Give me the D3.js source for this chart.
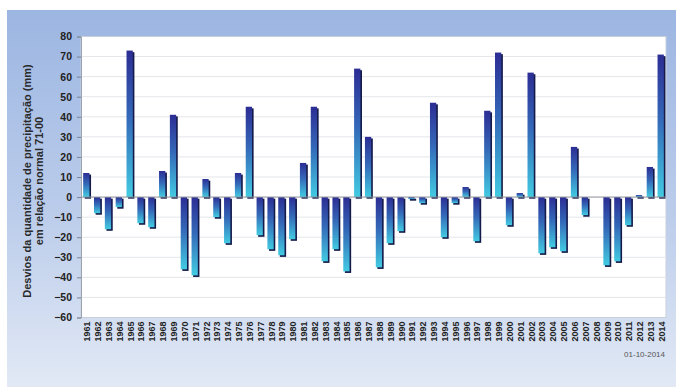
<!DOCTYPE html>
<html>
<head>
<meta charset="utf-8">
<script src="https://cdn.jsdelivr.net/npm/d3@7"></script>
<style>
  html, body { margin: 0; padding: 0; background: #fff; }
  svg { display: block; font-family: "Liberation Sans", Arial, sans-serif; }
</style>
</head>
<body>
<svg id="chart" width="676" height="387"></svg>
<script>
// Annual precipitation deviation from the 1971-2000 normal (mm)
const years = d3.range(1961, 2015).map(String);
const deviations = [
  12, -8, -16, -5, 73, -13, -15, 13, 41, -36,
  -39, 9, -10, -23, 12, 45, -19, -26, -29, -21,
  17, 45, -32, -26, -37, 64, 30, -35, -23, -17,
  -1, -3, 47, -20, -3, 5, -22, 43, 72, -14,
  2, 62, -28, -25, -27, 25, -9, 0, -34, -32,
  -14, 1, 15, 71
];
const yTicks = [80, 70, 60, 50, 40, 30, 20, 10, 0, -10, -20, -30, -40, -50, -60];
const yTitle = ["Desvios da quantidade de precipitação (mm)", "em relação normal 71-00"];
const stamp = "01-10-2014";

const svg = d3.select("#chart");
const defs = svg.append("defs");

// panel background
const bg = defs.append("linearGradient").attr("id", "panelBg")
  .attr("x1", 0).attr("y1", 0).attr("x2", 0).attr("y2", 1);
bg.append("stop").attr("offset", "0%").attr("stop-color", "#9cb6e2");
bg.append("stop").attr("offset", "55%").attr("stop-color", "#bccdeb");
bg.append("stop").attr("offset", "100%").attr("stop-color", "#e2e9f5");

// bar fill: dark blue on top, cyan below
const barG = defs.append("linearGradient").attr("id", "barFill")
  .attr("x1", 0).attr("y1", 0).attr("x2", 0).attr("y2", 1);
barG.append("stop").attr("offset", "0%").attr("stop-color", "#2c2d94");
barG.append("stop").attr("offset", "45%").attr("stop-color", "#3468b8");
barG.append("stop").attr("offset", "100%").attr("stop-color", "#42cbe2");

svg.append("rect").attr("x", 7).attr("y", 10).attr("width", 676 - 7).attr("height", 387 - 10)
  .attr("fill", "url(#panelBg)");

const plot = { left: 81, right: 666, top: 36.5, bottom: 317.5 };

const x = d3.scaleBand().domain(years).range([plot.left, plot.right])
  .paddingInner(0.42).paddingOuter(0.2);
const y = d3.scaleLinear().domain([-60, 80]).range([plot.bottom, plot.top]);

// plot area
svg.append("rect")
  .attr("x", plot.left).attr("y", plot.top)
  .attr("width", plot.right - plot.left).attr("height", plot.bottom - plot.top)
  .attr("fill", "#fff").attr("stroke", "#c8cfda").attr("stroke-width", 1);

// gridlines
svg.append("g").selectAll("line").data(yTicks.filter(v => v !== 80 && v !== -60 && v !== 0))
  .join("line")
  .attr("x1", plot.left).attr("x2", plot.right)
  .attr("y1", d => y(d)).attr("y2", d => y(d))
  .attr("stroke", "#e4e6ea").attr("stroke-width", 1);

// y axis
const yAxis = svg.append("g").attr("transform", `translate(${plot.left},0)`)
  .call(d3.axisLeft(y).tickValues(yTicks).tickSize(4).tickPadding(5).tickFormat(d3.format("d")));
yAxis.select(".domain").attr("stroke", "#9aa3b0");
yAxis.selectAll(".tick line").attr("stroke", "#7a8290");
yAxis.selectAll("text").attr("font-size", 10.5).attr("font-weight", "bold").attr("fill", "#222");

// bars: shadow behind, then front face
const bars = svg.append("g");
const bw = x.bandwidth();
const data = years.map((yr, i) => ({ yr, v: deviations[i] }));

bars.selectAll("rect.shadow").data(data.filter(d => d.v !== 0)).join("rect")
  .attr("class", "shadow")
  .attr("x", d => x(d.yr) + 1.6)
  .attr("y", d => Math.min(y(d.v), y(0)) + 1.6)
  .attr("width", bw)
  .attr("height", d => Math.abs(y(d.v) - y(0)))
  .attr("fill", "#141a4a");

bars.selectAll("rect.face").data(data.filter(d => d.v !== 0)).join("rect")
  .attr("class", "face")
  .attr("x", d => x(d.yr))
  .attr("y", d => Math.min(y(d.v), y(0)))
  .attr("width", bw)
  .attr("height", d => Math.abs(y(d.v) - y(0)))
  .attr("fill", "url(#barFill)");

// zero line
svg.append("line")
  .attr("x1", plot.left).attr("x2", plot.right)
  .attr("y1", y(0)).attr("y2", y(0))
  .attr("stroke", "#8a8f98").attr("stroke-width", 1);

// x labels, rotated
const xl = svg.append("g").attr("transform", `translate(0,${plot.bottom})`)
  .call(d3.axisBottom(x).tickSize(0).tickPadding(0));
xl.select(".domain").remove();
xl.selectAll("text")
  .attr("font-size", 9).attr("font-weight", "bold").attr("fill", "#222")
  .attr("text-anchor", "end")
  .attr("transform", "translate(4,4) rotate(-90)")
  .attr("dy", 0).attr("y", 0).attr("x", 0);

// y title
const yt = svg.append("text")
  .attr("transform", `translate(31,${(plot.top + plot.bottom) / 2 + 4}) rotate(-90)`)
  .attr("text-anchor", "middle")
  .attr("font-size", 11).attr("font-weight", "bold").attr("fill", "#2a2a2a");
yt.append("tspan").attr("x", 0).attr("dy", 0).text(yTitle[0]);
yt.append("tspan").attr("x", 0).attr("dy", 12).text(yTitle[1]);

// date stamp
svg.append("text").attr("x", 665).attr("y", 357).attr("text-anchor", "end")
  .attr("font-size", 8).attr("fill", "#555").text(stamp);
</script>
</body>
</html>
